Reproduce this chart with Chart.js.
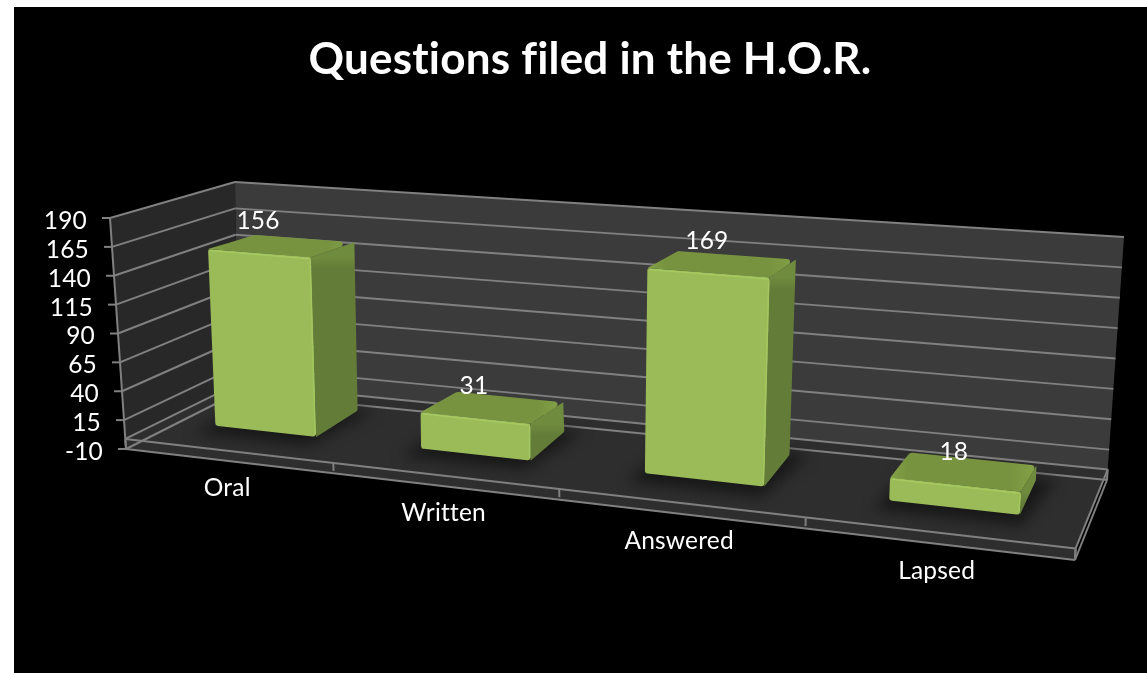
<!DOCTYPE html>
<html>
<head>
<meta charset="utf-8">
<script src="https://cdn.jsdelivr.net/npm/chart.js@4"></script>
<style>
html,body{margin:0;padding:0;background:#fff;overflow:hidden}
canvas{position:absolute;left:14px;top:7px;background:#000}
</style>
</head>
<body>
<canvas id="c" width="1133" height="666"></canvas>
<script>
const chartTitle = 'Questions filed in the H.O.R.';
const categories = ['Oral', 'Written', 'Answered', 'Lapsed'];
const values = [156, 31, 169, 18];
const yTicks = [-10, 15, 40, 65, 90, 115, 140, 165, 190];

const FONT = 'Lato, Carlito, Calibri, sans-serif';
// Projection of the plot box: corners are in page-canvas pixels.
const ORG = {x: 14, y: 7};
const BOX = {
  base: {fl: [126, 449], fr: [1075, 560], bl: [237, 393], br: [1107, 480]},
  top:  {fl: [110, 218], fr: [1090, 293], bl: [235, 182], br: [1124, 237]}
};
const K = 1.19, DEPTH_POW = 1.18, TOP_POW = 1.59, W0 = 0.37, W1 = 0.79, W1T = 0.77, FLOOR_VALUE = -1.3;
const lerp = (a, b, t) => a + (b - a) * t;
const warp = u => u / (u + K * (1 - u));
function P(u, w, h, pow) {
  const s = warp(u), wy = Math.pow(w, pow || DEPTH_POW);
  const pl = q => [
    lerp(lerp(q.fl[0], q.fr[0], s), lerp(q.bl[0], q.br[0], s), w),
    lerp(lerp(q.fl[1], q.fr[1], s), lerp(q.bl[1], q.br[1], s), wy)
  ];
  const a = pl(BOX.base), b = pl(BOX.top);
  return [lerp(a[0], b[0], h) - ORG.x, lerp(a[1], b[1], h) - ORG.y];
}
function path(ctx, pts) {
  ctx.beginPath();
  pts.forEach((p, i) => i ? ctx.lineTo(p[0], p[1]) : ctx.moveTo(p[0], p[1]));
  ctx.closePath();
}
function roundPath(ctx, pts, radii) {
  const n = pts.length;
  ctx.beginPath();
  const m = (a, b) => [(a[0] + b[0]) / 2, (a[1] + b[1]) / 2];
  const st = m(pts[n - 1], pts[0]);
  ctx.moveTo(st[0], st[1]);
  for (let i = 0; i < n; i++) {
    const nx = pts[(i + 1) % n];
    ctx.arcTo(pts[i][0], pts[i][1], nx[0], nx[1], radii[i]);
  }
  ctx.closePath();
}
function seg(ctx, a, b, color, width) {
  ctx.strokeStyle = color;
  ctx.lineWidth = width;
  ctx.beginPath();
  ctx.moveTo(a[0], a[1]);
  ctx.lineTo(b[0], b[1]);
  ctx.stroke();
}
const GRID = '#808080';
const LW = 2;

const titleStyle = {
  id: 'titleStyle',
  beforeDraw(chart) { chart.ctx.letterSpacing = '0.2px'; }
};

const perspective = {
  id: 'perspective',
  afterDatasetsDraw(chart) {
    const ctx = chart.ctx, area = chart.chartArea;
    const xs = chart.scales.x, ys = chart.scales.y;
    const hOf = px => (area.bottom - px) / area.height;
    const uOf = px => (px - area.left) / area.width;
    const hFloor = hOf(ys.getPixelForValue(FLOOR_VALUE));
    ctx.save();
    ctx.lineCap = 'butt';

    // walls
    ctx.fillStyle = '#3b3b3b';
    path(ctx, [P(0, 1, 0), P(1, 1, 0), P(1, 1, 1), P(0, 1, 1)]);
    ctx.fill();
    ctx.fillStyle = '#282828';
    path(ctx, [P(0, 0, 0), P(0, 1, 0), P(0, 1, 1), P(0, 0, 1)]);
    ctx.fill();

    // floor
    const floorPoly = [P(0, 1, hFloor), P(1, 1, hFloor), P(1, 0, hFloor), P(1, 0, 0), P(0, 0, 0), P(0, 0, hFloor)];
    ctx.fillStyle = '#2e2e2e';
    path(ctx, floorPoly);
    ctx.fill();

    // gridlines and value ticks
    ctx.font = '24.5px ' + FONT;
    ctx.textAlign = 'right';
    ctx.textBaseline = 'middle';
    ys.ticks.forEach(t => {
      const h = hOf(ys.getPixelForValue(t.value));
      const a = P(0, 0, h), b = P(0, 1, h), c = P(1, 1, h);
      seg(ctx, a, b, GRID, LW);
      seg(ctx, b, c, GRID, LW);
      seg(ctx, a, [a[0] - 8, a[1]], GRID, LW);
      ctx.fillStyle = '#fff';
      ctx.fillText(String(t.value), a[0] - 23, a[1] + 3);
    });
    // axis and floor edges
    seg(ctx, P(0, 0, 0), P(0, 0, 1), GRID, LW);
    seg(ctx, P(0, 0, 0), P(1, 0, 0), GRID, LW);
    seg(ctx, P(0, 0, hFloor), P(1, 0, hFloor), GRID, LW);
    seg(ctx, P(0, 0, hFloor), P(0, 1, hFloor), GRID, LW);
    seg(ctx, P(0, 1, hFloor), P(1, 1, hFloor), GRID, LW);
    seg(ctx, P(1, 0, hFloor), P(1, 1, hFloor), GRID, LW);
    seg(ctx, P(1, 0, 0), P(1, 1, 0), GRID, LW);
    seg(ctx, P(0, 0, hFloor), P(0, 0, 0), GRID, LW);
    seg(ctx, P(1, 0, hFloor), P(1, 0, 0), GRID, LW);
    seg(ctx, P(1, 1, hFloor), P(1, 1, 0), GRID, LW);

    // category ticks and labels
    const n = categories.length;
    for (let i = 1; i <= n; i++) {
      const u = i / n;
      const a = P(u, 0, hFloor), b = P(u, 0, hOf(ys.getPixelForValue(-8)));
      seg(ctx, a, b, GRID, LW);
    }
    ctx.textAlign = 'center';
    ctx.fillStyle = '#fff';
    categories.forEach((name, i) => {
      const u = uOf(xs.getPixelForTick(i));
      const p = P(u, 0, 0);
      ctx.fillText(name, p[0] - 0.5, p[1] + 27);
    });

    // bars
    const meta = chart.getDatasetMeta(0);
    const bars = meta.data.map(el => {
      const p = el.getProps(['x', 'y', 'base', 'width'], true);
      return {ul: uOf(p.x - p.width / 2), ur: uOf(p.x + p.width / 2), uc: uOf(p.x), hb: hOf(p.base), ht: hOf(p.y)};
    });

    // soft floor shadows
    ctx.save();
    path(ctx, floorPoly);
    ctx.clip();
    ctx.filter = 'blur(7px)';
    ctx.fillStyle = '#181818';
    bars.forEach(b => {
      path(ctx, [P(b.ul - 0.008, W0 - 0.14, b.hb), P(b.ur + 0.006, W0 - 0.14, b.hb), P(b.ur + 0.018, W1 + 0.02, b.hb), P(b.ul, W1 + 0.02, b.hb)]);
      ctx.fill();
    });
    ctx.restore();

    bars.forEach((b, i) => {
      const f = [P(b.ul, W0, b.hb), P(b.ur, W0, b.hb), P(b.ur, W0, b.ht), P(b.ul, W0, b.ht)];
      const t = [P(b.ul, W0, b.ht), P(b.ur, W0, b.ht), P(b.ur, W1T, b.ht, TOP_POW), P(b.ul, W1T, b.ht, TOP_POW)];
      const s = [P(b.ur, W0, b.hb), P(b.ur, W1, b.hb), P(b.ur, W1T, b.ht, TOP_POW), P(b.ur, W0, b.ht)];
      // side face
      const sg = ctx.createLinearGradient(0, s[3][1], 0, s[3][1] + 12);
      sg.addColorStop(0, '#6f8b3e');
      sg.addColorStop(1, '#637c38');
      ctx.fillStyle = sg;
      roundPath(ctx, s, [0, 3, 0, 0]);
      ctx.fill();
      // top face, slightly lighter toward its side edges
      const x0 = t[0][0], x1 = t[2][0];
      const tg = ctx.createLinearGradient(x0, 0, x1, 0);
      tg.addColorStop(0, '#84a247');
      tg.addColorStop(0.12, '#77933f');
      tg.addColorStop(0.82, '#77933f');
      tg.addColorStop(1, '#84a247');
      ctx.fillStyle = tg;
      roundPath(ctx, t, [0, 0, 3, 5]);
      ctx.fill();
      // front face
      ctx.fillStyle = '#9bbb59';
      roundPath(ctx, f, [3, 3, 2, 2]);
      ctx.fill();
      // front highlights
      seg(ctx, [f[3][0] + 2, f[3][1] + 1.5], [f[2][0] - 2, f[2][1] + 1.5], '#a6c960', 1.5);
      seg(ctx, [f[2][0] - 1, f[2][1] + 3], [f[1][0] - 1, f[1][1] - 3], '#a3c75e', 1.5);

      // data label
      const c = P(b.uc, W0, b.ht);
      ctx.fillStyle = '#fff';
      ctx.textAlign = 'center';
      ctx.font = '24.5px ' + FONT;
      ctx.fillText(String(values[i]), c[0] - 1, c[1] - 32);
    });
    ctx.restore();
  }
};

new Chart(document.getElementById('c'), {
  type: 'bar',
  data: {
    labels: categories,
    datasets: [{data: values, backgroundColor: 'transparent', borderWidth: 0, categoryPercentage: 1, barPercentage: 0.5}]
  },
  options: {
    responsive: false,
    animation: false,
    layout: {padding: {left: 19, right: 0, top: 0, bottom: 0}},
    plugins: {
      legend: {display: false},
      tooltip: {enabled: false},
      title: {
        display: true,
        text: chartTitle,
        color: '#fff',
        font: {family: FONT, size: 44, weight: 'bold'},
        padding: {top: 26, bottom: 10}
      }
    },
    scales: {
      x: {display: false},
      y: {
        display: false,
        min: yTicks[0],
        max: yTicks[yTicks.length - 1],
        afterBuildTicks: s => { s.ticks = yTicks.map(v => ({value: v})); }
      }
    }
  },
  plugins: [titleStyle, perspective]
});
</script>
</body>
</html>
